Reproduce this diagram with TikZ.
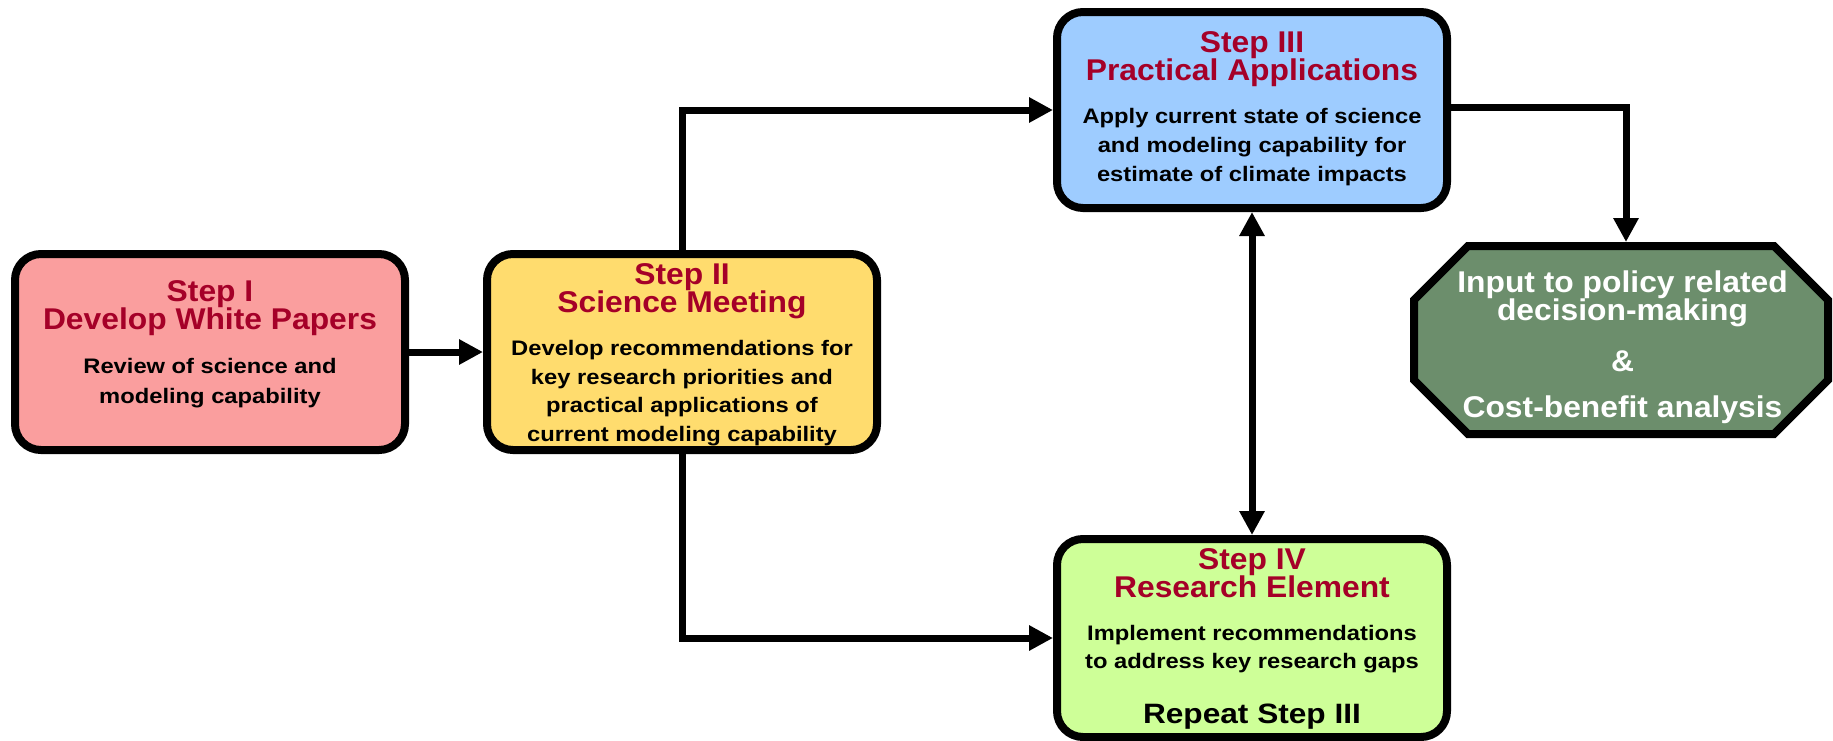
\documentclass[tikz,border=0pt]{standalone}
\usepackage{fontspec}
\setmainfont{Liberation Sans}
\newfontfamily\titlef{Liberation Sans}[FakeStretch=1.06]
\newfontfamily\bodyf{Liberation Sans}[FakeStretch=1.13]
\usetikzlibrary{arrows.meta,calc}
\definecolor{titlered}{RGB}{165,0,40}
\definecolor{fillI}{RGB}{250,158,158}
\definecolor{fillII}{RGB}{255,220,110}
\definecolor{fillIII}{RGB}{158,204,255}
\definecolor{fillIV}{RGB}{206,255,152}
\definecolor{fillOct}{RGB}{108,142,108}
\newcommand{\ttl}[2]{{\titlef\bfseries\fontsize{30}{#1}\selectfont\leavevmode\color{titlered}#2\par}}
\newcommand{\bdy}[2]{{\bodyf\bfseries\fontsize{21}{#1}\selectfont\leavevmode#2\par}}
\begin{document}
\begin{tikzpicture}[x=1pt,y=-1pt,
  stepbox/.style={draw=black, line width=8pt, rounded corners=26pt,
    minimum width=390pt, minimum height=196pt, inner sep=0pt},
  txt/.style={anchor=base, inner sep=0pt, outer sep=0pt},
  conn/.style={line width=7pt, -{Triangle[length=24pt,width=24pt]}},
  dconn/.style={line width=7pt, {Triangle[length=24pt,width=24pt]}-{Triangle[length=24pt,width=24pt]}},
  octbox/.style={minimum width=414pt, minimum height=188pt, inner sep=0pt, outer sep=4pt},
]
\useasboundingbox (0,0) rectangle (1833,740);

% boxes
\node[stepbox, fill=fillI]   (sI)   at (210,352) {};
\node[stepbox, fill=fillII]  (sII)  at (682,352) {};
\node[stepbox, fill=fillIII] (sIII) at (1252,110) {};
\node[stepbox, fill=fillIV, minimum height=198pt] (sIV) at (1252,638) {};
\node[octbox] (oct) at (1621,340) {};
\draw[line width=8pt, fill=fillOct]
  ($(oct.center)+(-153,-94)$) -- ($(oct.center)+(153,-94)$) --
  ($(oct.center)+(207,-40)$) -- ($(oct.center)+(207,40)$) --
  ($(oct.center)+(153,94)$) -- ($(oct.center)+(-153,94)$) --
  ($(oct.center)+(-207,40)$) -- ($(oct.center)+(-207,-40)$) -- cycle;

% texts
\node[txt] (tI) at ($(sI.north)+(0,51)$) {\parbox[t]{380pt}{\centering
  \ttl{26.5}{Step I\\Develop White Papers}\vspace{14pt}
  \bdy{30}{Review of science and\\modeling capability}}};
\node[txt] (tII) at ($(sII.north)+(0,34)$) {\parbox[t]{380pt}{\centering
  \ttl{28.3}{Step II\\Science Meeting}\vspace{15pt}
  \bdy{28.5}{Develop recommendations for\\key research priorities and\\practical applications of\\current modeling capability}}};
\node[txt] (tIII) at ($(sIII.north)+(0,44)$) {\parbox[t]{380pt}{\centering
  \ttl{28.3}{Step III\\Practical Applications}\vspace{13.7pt}
  \bdy{29}{Apply current state of science\\and modeling capability for\\estimate of climate impacts}}};
\node[txt] (tIV) at ($(sIV.north)+(0,34)$) {\parbox[t]{380pt}{\centering
  \ttl{28.3}{Step IV\\Research Element}\vspace{15pt}
  \bdy{28.3}{Implement recommendations\\to address key research gaps}\vspace{25pt}
  {\bodyf\bfseries\fontsize{28}{30}\selectfont\leavevmode Repeat Step III\par}}};
\node[txt, text=white] (tOct) at ($(oct.center)+(1.5,-48)$) {\parbox[t]{400pt}{\centering
  \titlef\bfseries\fontsize{30}{26.5}\selectfont
  Input to policy related\\decision-making\\[22pt]\&\\[20pt]Cost-benefit analysis\par}};

% connectors
\coordinate (octin) at ($(oct.north)+(5,0)$);
\draw[conn] (sI.east) -- (sII.west);
\draw[conn] (sII.north) |- (sIII.west);
\draw[conn] (sII.south) |- (sIV.west);
\draw[conn] ($(sIII.east)+(0,-3)$) -| (octin);
\draw[dconn] (sIII.south) -- (sIV.north);
\end{tikzpicture}
\end{document}
